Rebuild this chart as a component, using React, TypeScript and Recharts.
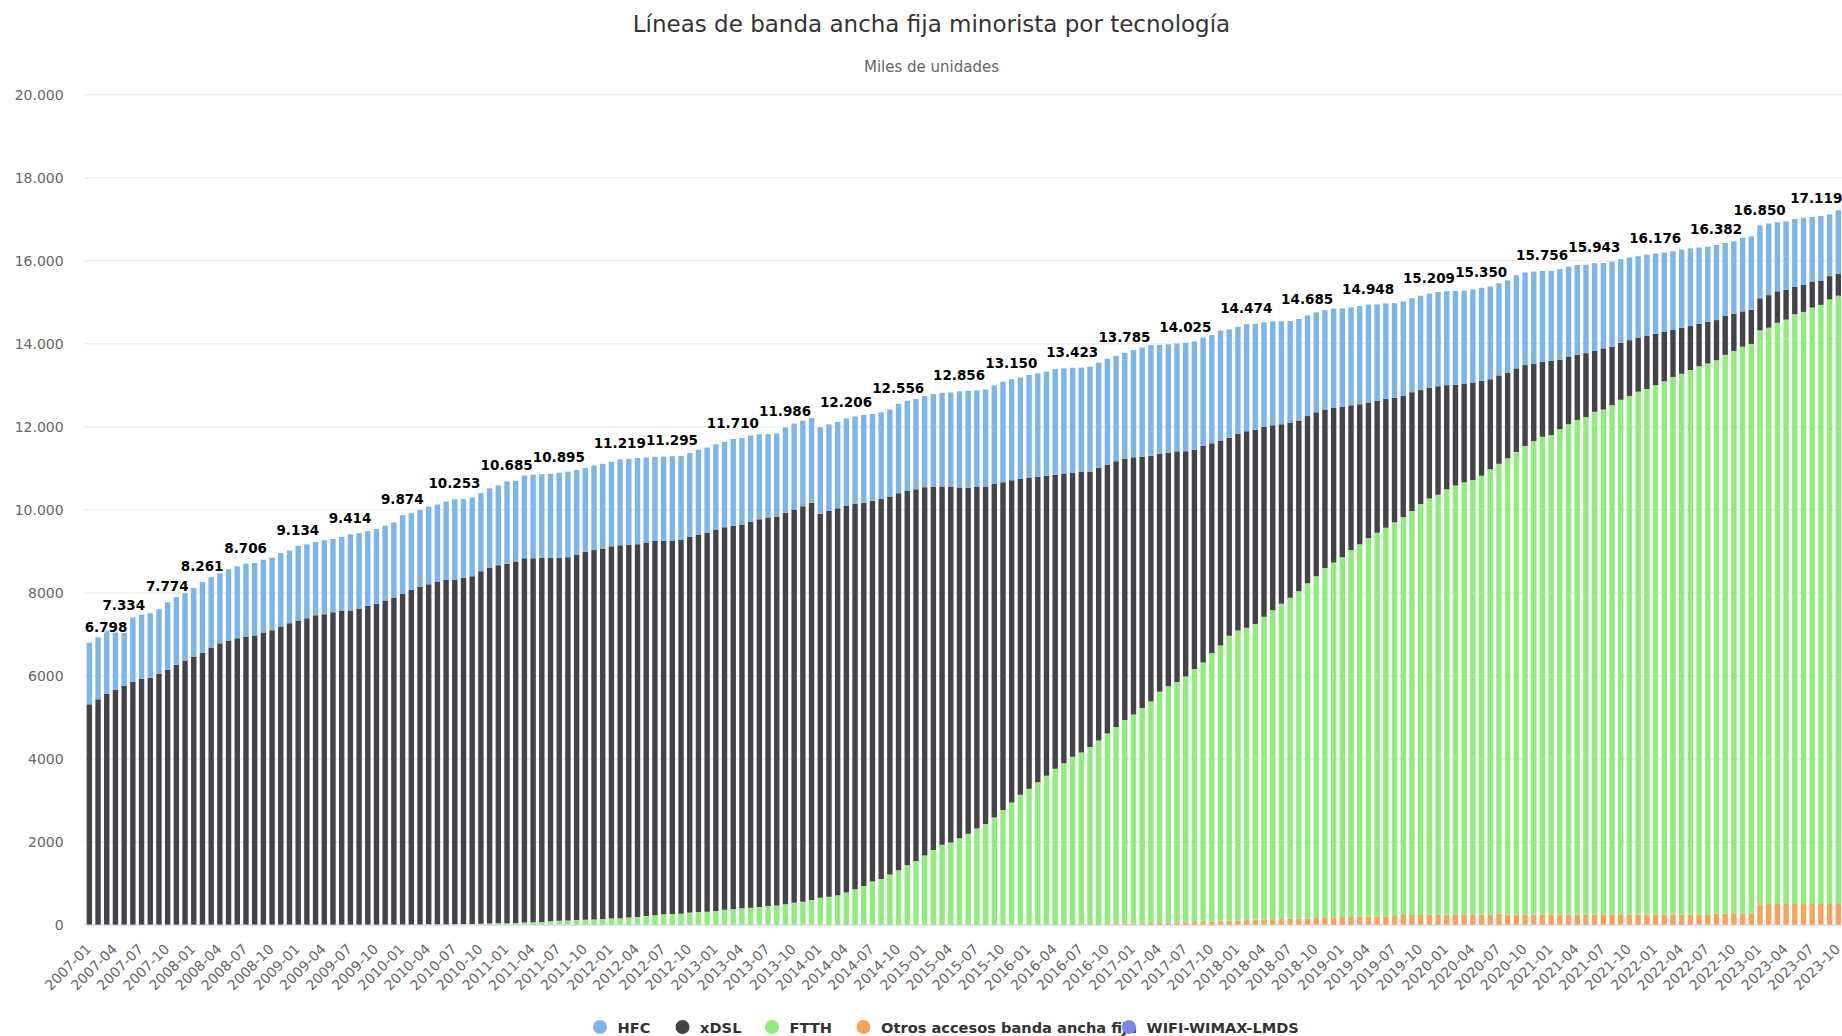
import React from 'react';
import { ComposedChart, Bar, Line, XAxis, YAxis, CartesianGrid, Legend, LabelList } from 'recharts';

// ---------- categories (monthly, 2007-01 … 2023-10) ----------
const FIRST_YEAR = 2007;
const MONTH_COUNT = 202;
const months: string[] = Array.from({ length: MONTH_COUNT }, (_, i) => {
  const y = FIRST_YEAR + Math.floor(i / 12);
  const m = (i % 12) + 1;
  return `${y}-${m < 10 ? '0' + m : m}`;
});

// ---------- series values (miles de líneas), one row per year ----------
const hfc = [
  1481, 1492, 1524, 1387, 1286, 1555, 1550, 1558, 1559, 1629, 1631, 1622,
  1654, 1706, 1695, 1687, 1719, 1732, 1758, 1748, 1756, 1750, 1771, 1751,
  1801, 1780, 1768, 1784, 1766, 1776, 1840, 1818, 1803, 1803, 1804, 1819,
  1901, 1843, 1857, 1872, 1857, 1887, 1927, 1895, 1896, 1882, 1920, 1924,
  1980, 1943, 1995, 2015, 2020, 2030, 2050, 2058, 2033, 2018, 2039, 2039,
  2037, 2070, 2075, 2075, 2051, 2026, 2031, 2035, 2020, 2025, 2040, 2050,
  2065, 2060, 2090, 2084, 2079, 2044, 2009, 1998, 2053, 2068, 2060, 2041,
  2083, 2087, 2082, 2103, 2108, 2121, 2089, 2090, 2095, 2152, 2174, 2175,
  2192, 2229, 2255, 2269, 2316, 2336, 2319, 2335, 2374, 2425, 2433, 2433,
  2467, 2494, 2508, 2542, 2536, 2536, 2512, 2524, 2532, 2557, 2535, 2545,
  2584, 2631, 2664, 2630, 2606, 2600, 2610, 2611, 2609, 2604, 2649, 2613,
  2582, 2580, 2547, 2522, 2503, 2481, 2447, 2445, 2425, 2409, 2393, 2394,
  2373, 2359, 2363, 2362, 2324, 2297, 2276, 2277, 2265, 2273, 2270, 2271,
  2265, 2257, 2236, 2240, 2241, 2232, 2220, 2225, 2240, 2232, 2213, 2189,
  2167, 2181, 2163, 2164, 2129, 2115, 2057, 2047, 2016, 1991, 1968, 1956,
  1930, 1914, 1892, 1880, 1871, 1839, 1806, 1809, 1752, 1740, 1778, 1769,
  1754, 1726, 1664, 1645, 1640, 1617, 1559, 1553, 1487, 1536,
];

const xdsl = [
  5317, 5438, 5566, 5663, 5759, 5855, 5928, 5952, 6048, 6145, 6265, 6370,
  6466, 6555, 6683, 6787, 6851, 6908, 6948, 6972, 7044, 7100, 7189, 7269,
  7333, 7390, 7462, 7486, 7534, 7574, 7574, 7622, 7687, 7737, 7816, 7881,
  7968, 8071, 8135, 8198, 8261, 8298, 8308, 8343, 8378, 8492, 8565, 8626,
  8660, 8707, 8777, 8770, 8765, 8752, 8745, 8752, 8807, 8864, 8896, 8926,
  8968, 8984, 8975, 8980, 8999, 9019, 8993, 8995, 9010, 9045, 9096, 9132,
  9175, 9214, 9241, 9241, 9293, 9345, 9359, 9372, 9436, 9476, 9528, 9568,
  9253, 9293, 9319, 9319, 9279, 9228, 9175, 9149, 9109, 9084, 9018, 8953,
  8875, 8757, 8631, 8574, 8449, 8338, 8235, 8134, 8038, 7894, 7763, 7620,
  7502, 7359, 7228, 7084, 6979, 6835, 6757, 6639, 6574, 6469, 6404, 6299,
  6195, 6051, 5921, 5725, 5633, 5555, 5429, 5280, 5215, 5058, 4940, 4771,
  4731, 4732, 4679, 4574, 4456, 4327, 4222, 4117, 4026, 3947, 3817, 3725,
  3620, 3490, 3372, 3267, 3176, 3111, 3006, 2914, 2862, 2745, 2666, 2614,
  2510, 2431, 2379, 2353, 2287, 2169, 2130, 2065, 2013, 1947, 1869, 1804,
  1791, 1673, 1633, 1568, 1542, 1464, 1476, 1412, 1372, 1346, 1294, 1281,
  1241, 1190, 1137, 1111, 1059, 1019, 1007, 967, 942, 902, 850, 823,
  771, 784, 758, 719, 653, 654, 627, 588, 562, 523,
];

const ftth = [
  0, 0, 0, 0, 0, 0, 0, 0, 0, 0, 0, 0,
  0, 0, 0, 0, 0, 0, 0, 0, 0, 0, 0, 0,
  0, 0, 0, 0, 0, 0, 0, 0, 0, 0, 0, 0,
  5, 6, 8, 10, 12, 15, 18, 22, 26, 30, 35, 40,
  45, 50, 58, 65, 75, 88, 100, 110, 120, 128, 135, 145,
  155, 165, 180, 195, 215, 235, 261, 265, 270, 300, 314, 318,
  340, 366, 379, 405, 418, 431, 457, 470, 497, 536, 562, 601,
  654, 680, 719, 784, 863, 941, 1046, 1111, 1216, 1320, 1438, 1542,
  1673, 1804, 1934, 1987, 2091, 2196, 2326, 2431, 2588, 2771, 2954, 3137,
  3281, 3437, 3594, 3764, 3895, 4052, 4146, 4272, 4424, 4589, 4741, 4906,
  5033, 5186, 5339, 5570, 5696, 5795, 5921, 6099, 6251, 6468, 6641, 6866,
  6987, 7042, 7124, 7289, 7441, 7592, 7731, 7883, 8074, 8234, 8425, 8546,
  8672, 8836, 8975, 9114, 9245, 9357, 9483, 9589, 9733, 9900, 10029, 10120,
  10250, 10339, 10417, 10467, 10572, 10727, 10835, 10990, 11147, 11291, 11408, 11513,
  11552, 11694, 11812, 11916, 11982, 12112, 12165, 12269, 12400, 12493, 12598, 12663,
  12755, 12846, 12951, 13029, 13120, 13212, 13275, 13336, 13461, 13548, 13652, 13718,
  13825, 13885, 14003, 14081, 14212, 14264, 14369, 14434, 14565, 14656,
];

const otros = [
  0, 0, 0, 0, 0, 0, 0, 0, 0, 0, 0, 0,
  0, 0, 0, 0, 0, 0, 0, 0, 0, 0, 0, 0,
  0, 0, 0, 0, 0, 0, 0, 0, 0, 0, 0, 0,
  0, 0, 0, 0, 0, 0, 0, 0, 0, 0, 0, 0,
  0, 0, 0, 0, 0, 0, 0, 0, 0, 0, 0, 0,
  0, 0, 0, 0, 0, 0, 0, 0, 0, 0, 0, 0,
  0, 0, 0, 0, 0, 0, 0, 0, 0, 0, 0, 0,
  0, 0, 0, 0, 0, 0, 0, 0, 0, 0, 0, 0,
  0, 0, 0, 0, 0, 0, 0, 0, 0, 0, 0, 0,
  0, 0, 0, 0, 0, 0, 10, 15, 20, 25, 30, 35,
  38, 42, 46, 50, 55, 60, 65, 70, 75, 80, 90, 100,
  110, 120, 130, 135, 140, 145, 150, 155, 160, 170, 175, 185,
  190, 195, 200, 205, 205, 210, 215, 240, 240, 242, 244, 245,
  245, 248, 248, 250, 250, 252, 275, 250, 250, 250, 250, 250,
  250, 252, 252, 252, 252, 252, 252, 252, 252, 250, 250, 250,
  250, 250, 250, 250, 250, 250, 252, 270, 275, 280, 280, 280,
  500, 505, 505, 505, 505, 505, 505, 505, 505, 505,
];

const wifi = [
  0, 0, 0, 0, 0, 0, 0, 0, 0, 0, 0, 0,
  0, 0, 0, 0, 0, 0, 0, 0, 0, 0, 0, 0,
  0, 0, 0, 0, 0, 0, 0, 0, 0, 0, 0, 0,
  0, 0, 0, 0, 0, 0, 0, 0, 0, 0, 0, 0,
  0, 0, 0, 0, 0, 0, 0, 0, 0, 0, 0, 0,
  0, 0, 0, 0, 0, 0, 0, 0, 0, 0, 0, 0,
  0, 0, 0, 0, 0, 0, 0, 0, 0, 0, 0, 0,
  0, 0, 0, 0, 0, 0, 0, 0, 0, 0, 0, 0,
  0, 0, 0, 0, 0, 0, 0, 0, 0, 0, 0, 0,
  0, 0, 0, 0, 0, 0, 0, 0, 0, 0, 0, 0,
  0, 0, 0, 0, 0, 0, 0, 0, 0, 0, 0, 0,
  0, 0, 0, 0, 0, 0, 0, 0, 0, 0, 0, 0,
  0, 0, 0, 0, 0, 0, 0, 0, 0, 0, 0, 0,
  0, 0, 0, 0, 0, 0, 0, 0, 0, 0, 0, 0,
  0, 0, 0, 0, 0, 0, 0, 0, 0, 0, 0, 0,
  0, 0, 0, 0, 0, 0, 0, 0, 0, 0, 0, 0,
  0, 0, 0, 0, 0, 0, 0, 0, 0, 0,
];

// ---------- total labels shown above the stacks ----------
const totalLabelMonths = [
  '2007-01', '2007-05', '2007-10', '2008-02', '2008-07', '2009-01', '2009-07',
  '2010-01', '2010-07', '2011-01', '2011-07', '2012-02', '2012-08', '2013-03',
  '2013-09', '2014-04', '2014-10', '2015-05', '2015-11', '2016-06', '2016-12',
  '2017-07', '2018-02', '2018-09', '2019-04', '2019-11', '2020-05', '2020-12',
  '2021-06', '2022-01', '2022-08', '2023-01', '2023-09',
];
const totalLabelValues = [
  6798, 7334, 7774, 8261, 8706, 9134, 9414,
  9874, 10253, 10685, 10895, 11219, 11295, 11710,
  11986, 12206, 12556, 12856, 13150, 13423, 13785,
  14025, 14474, 14685, 14948, 15209, 15350, 15756,
  15943, 16176, 16382, 16850, 17119,
];

// ---------- axis ticks ----------
const yTicks = [0, 2000, 4000, 6000, 8000, 10000, 12000, 14000, 16000, 18000, 20000];

// ---------- series meta ----------
const seriesKeys = ['hfc', 'xdsl', 'ftth', 'otros', 'wifi'];
const seriesNames = ['HFC', 'xDSL', 'FTTH', 'Otros accesos banda ancha fija', 'WIFI-WIMAX-LMDS'];
const seriesColors = ['#7cb5ec', '#434348', '#90ed7d', '#f7a35c', '#8085e9'];

const TITLE = 'Líneas de banda ancha fija minorista por tecnología';
const SUBTITLE = 'Miles de unidades';

// ---------- layout ----------
const FONT = "'DejaVu Sans', Verdana, sans-serif";
const CHART_W = 1856;
const CHART_H = 1036;
const PLOT_LEFT = 84.65;
const PLOT_RIGHT = 1842.3;
const PLOT_TOP = 94.8;
const PLOT_BOTTOM = 925;
const Y_AXIS_W = 70;
const X_AXIS_H = 60;
const CENTER_X = 931.5;
const legendX = [600, 682.5, 772, 863.5, 1129];
const LEGEND_TOP = 1014;

const seriesArrays: Record<string, number[]> = { hfc, xdsl, ftth, otros, wifi };
const labelMap: Record<string, number> = {};
totalLabelMonths.forEach((m, i) => { labelMap[m] = totalLabelValues[i]; });

const data = months.map((m, i) => {
  const row: any = { month: m, total: labelMap[m] ?? null };
  seriesKeys.forEach((k) => { row[k] = seriesArrays[k][i]; });
  return row;
});

const withDots = (v: number) => String(Math.round(v)).replace(/\B(?=(\d{3})+(?!\d))/g, '.');
const fmtAxis = (v: number) => (v >= 10000 ? withDots(v) : String(v));

const LABEL_FS = 13.5;
const renderTotal = (props: any) => {
  const vb = props.viewBox || {};
  const x = props.x ?? vb.x;
  const y = props.y ?? vb.y;
  const value = props.value;
  if (value == null || x == null || y == null || isNaN(x) || isNaN(y)) return null;
  const text = withDots(value);
  let w = 0;
  for (const ch of text) w += ch === '.' ? 0.38 * LABEL_FS : 0.696 * LABEL_FS;
  let cx = x;
  if (cx - w / 2 < PLOT_LEFT) cx = PLOT_LEFT + w / 2;
  if (cx + w / 2 > PLOT_RIGHT) cx = PLOT_RIGHT - w / 2;
  return (
    <text
      x={cx}
      y={y - 11}
      textAnchor="middle"
      fontFamily={FONT}
      fontSize={LABEL_FS}
      fontWeight="bold"
      fill="#000"
      stroke="#fff"
      strokeWidth={2}
      strokeLinejoin="round"
      style={{ paintOrder: 'stroke' }}
    >
      {text}
    </text>
  );
};

const XTick = (props: any) => {
  const { x, payload } = props;
  const ax = x + 3;
  const ay = PLOT_BOTTOM + 25;
  return (
    <text
      x={ax}
      y={ay}
      transform={`rotate(-45, ${ax}, ${ay})`}
      textAnchor="end"
      fontFamily={FONT}
      fontSize={14}
      fill="#666666"
    >
      {payload.value}
    </text>
  );
};

const renderLegend = () => (
  <svg width={CHART_W} height={26} style={{ display: 'block' }}>
    {seriesNames.map((name, i) => (
      <g key={name}>
        <circle cx={legendX[i]} cy={13} r={7} fill={seriesColors[i]} />
        <text
          x={legendX[i] + 17.6}
          y={13}
          dominantBaseline="central"
          fontFamily={FONT}
          fontSize={14.6}
          fontWeight="bold"
          fill="#333333"
        >
          {name}
        </text>
      </g>
    ))}
  </svg>
);

export default function App() {
  const stackOrder = [4, 3, 2, 1, 0]; // bottom → top (WIFI … HFC)
  return (
    <div
      style={{
        position: 'fixed',
        left: 0,
        top: 0,
        width: 1842,
        height: 1036,
        overflow: 'hidden',
        background: '#ffffff',
      }}
    >
      <svg
        width={1842}
        height={90}
        style={{ position: 'absolute', left: 0, top: 0, zIndex: 2, pointerEvents: 'none' }}
      >
        <text x={CENTER_X} y={32.4} textAnchor="middle" fontFamily={FONT} fontSize={23} fill="#333333">
          {TITLE}
        </text>
        <text x={CENTER_X} y={72.4} textAnchor="middle" fontFamily={FONT} fontSize={15} fill="#666666">
          {SUBTITLE}
        </text>
      </svg>
      <ComposedChart
        width={CHART_W}
        height={CHART_H}
        data={data}
        barSize={5.4}
        margin={{
          top: PLOT_TOP,
          left: PLOT_LEFT - Y_AXIS_W,
          right: CHART_W - PLOT_RIGHT,
          bottom: CHART_H - PLOT_BOTTOM - X_AXIS_H,
        }}
      >
        <CartesianGrid vertical={false} stroke="#e6e6e6" />
        <XAxis
          dataKey="month"
          interval={2}
          tick={XTick}
          tickLine={false}
          axisLine={{ stroke: '#ccd6eb' }}
          height={X_AXIS_H}
        />
        <YAxis
          width={Y_AXIS_W}
          domain={[0, 20000]}
          ticks={yTicks}
          tickFormatter={fmtAxis}
          axisLine={false}
          tickLine={false}
          tickMargin={15}
          tick={{ fontSize: 14, fill: '#666666', fontFamily: FONT }}
        />
        {stackOrder.map((si) => (
          <Bar
            key={seriesKeys[si]}
            dataKey={seriesKeys[si]}
            name={seriesNames[si]}
            stackId="a"
            fill={seriesColors[si]}
            isAnimationActive={false}
          />
        ))}
        <Line
          dataKey="total"
          name="Total"
          stroke="none"
          dot={false}
          activeDot={false}
          legendType="none"
          isAnimationActive={false}
        >
          <LabelList dataKey="total" content={renderTotal} />
        </Line>
        <Legend
          verticalAlign="middle"
          align="center"
          layout="horizontal"
          content={renderLegend}
          wrapperStyle={{ top: LEGEND_TOP, left: 0, width: CHART_W, height: 26 }}
        />
      </ComposedChart>
    </div>
  );
}
